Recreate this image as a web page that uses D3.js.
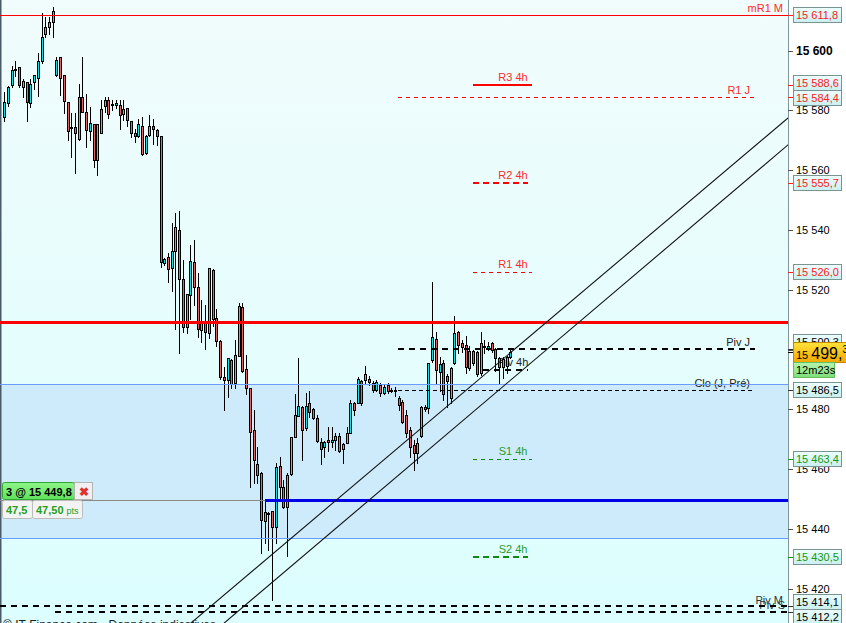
<!DOCTYPE html>
<html><head><meta charset="utf-8">
<script src="https://cdn.jsdelivr.net/npm/d3@7/dist/d3.min.js"></script>
<style>html,body{margin:0;padding:0;background:#fff;overflow:hidden}svg{display:block;font-family:"Liberation Sans",Arial,sans-serif}</style>
</head><body><svg id="c" width="846" height="623"></svg>
<script>
// ---- data ----
const opens = [15577.7,15582.4,15588.4,15593.5,15594.4,15587.7,15589.4,15582.4,15589.4,15590.7,15596.4,15605.4,15607.8,15609.4,15591.7,15597.7,15591.7,15582.7,15574.6,15574.3,15570.6,15584.6,15579.3,15573.0,15575.3,15563.3,15572.6,15581.4,15583.4,15581.7,15581.7,15581.7,15578.7,15580.7,15576.3,15572.3,15571.3,15574.7,15565.6,15571.7,15574.7,15573.3,15571.3,15528.8,15530.9,15527.2,15532.9,15539.9,15523.5,15507.4,15518.2,15529.2,15521.0,15506.5,15508.8,15505.4,15526.6,15510.5,15503.0,15490.7,15490.0,15496.5,15488.7,15498.0,15514.2,15493.4,15487.0,15473.1,15461.9,15458.6,15442.8,15445.3,15446.0,15440.8,15461.1,15453.9,15447.5,15458.4,15470.9,15477.9,15480.9,15473.7,15482.0,15480.0,15477.0,15469.2,15467.5,15469.8,15469.2,15469.8,15471.1,15466.7,15468.9,15472.2,15482.0,15482.2,15489.6,15489.8,15490.3,15488.9,15486.5,15488.2,15485.4,15488.2,15486.5,15486.4,15483.7,15482.6,15478.1,15473.1,15468.1,15465.3,15471.1,15480.8,15480.4,15496.5,15503.6,15492.6,15495.4,15491.2,15483.7,15495.4,15506.0,15502.3,15501.5,15493.7,15499.5,15499.3,15492.1,15501.2,15500.4,15502.3,15500.1,15497.1,15494.3,15494.5,15497.4];
const highs = [15586.2,15588.1,15594.9,15596.4,15594.6,15590.4,15589.6,15590.4,15591.9,15599.1,15612.5,15611.1,15611.1,15614.5,15597.7,15597.9,15591.9,15582.9,15579.0,15579.0,15588.7,15597.7,15585.4,15581.2,15575.5,15575.5,15583.4,15584.4,15584.4,15583.4,15583.4,15583.4,15583.4,15580.9,15576.5,15573.7,15577.0,15577.7,15571.7,15578.3,15577.0,15573.7,15571.4,15530.6,15532.2,15542.2,15545.6,15546.2,15529.9,15518.6,15534.9,15536.5,15525.5,15516.5,15514.8,15527.4,15527.0,15513.5,15503.2,15494.3,15497.2,15496.7,15503.2,15515.5,15515.7,15498.2,15487.1,15479.8,15467.5,15459.2,15449.7,15445.8,15446.1,15462.0,15464.2,15456.4,15458.6,15470.9,15485.0,15497.1,15481.1,15485.4,15486.0,15480.4,15478.1,15470.3,15469.5,15474.0,15474.2,15472.0,15472.2,15468.9,15474.2,15483.1,15482.6,15490.9,15489.8,15494.5,15491.2,15489.5,15489.8,15488.8,15488.2,15488.8,15487.2,15487.6,15484.5,15483.0,15479.8,15474.2,15469.8,15470.3,15481.1,15481.6,15495.6,15522.7,15506.0,15497.6,15496.5,15491.8,15494.3,15511.2,15506.2,15503.2,15504.5,15501.2,15500.0,15499.5,15506.0,15503.2,15502.6,15502.6,15500.4,15497.4,15497.6,15497.8,15500.2];
const lows = [15576.5,15581.5,15587.7,15591.5,15587.7,15584.4,15576.5,15581.2,15587.0,15584.8,15596.0,15604.6,15605.4,15604.6,15591.5,15585.1,15579.0,15570.1,15564.3,15559.0,15570.0,15579.3,15567.6,15570.0,15561.2,15558.3,15572.4,15579.3,15577.3,15580.0,15580.7,15573.7,15576.7,15574.7,15571.0,15569.3,15571.0,15565.0,15565.3,15571.3,15568.6,15568.3,15527.7,15528.4,15522.7,15519.7,15506.8,15498.8,15505.8,15505.4,15510.1,15514.8,15504.1,15502.5,15500.1,15504.0,15508.0,15501.3,15490.3,15479.8,15484.2,15487.0,15487.0,15497.8,15492.5,15485.0,15454.1,15455.3,15455.3,15431.9,15435.2,15433.0,15416.3,15435.2,15449.7,15447.0,15431.1,15458.1,15470.7,15477.8,15463.1,15473.1,15477.5,15476.8,15469.2,15461.7,15464.0,15466.1,15467.5,15466.4,15465.9,15462.0,15468.7,15472.0,15478.1,15482.0,15481.4,15488.7,15488.2,15485.8,15486.2,15484.5,15485.1,15485.5,15485.8,15484.6,15479.8,15475.4,15470.9,15464.2,15459.7,15462.0,15470.9,15479.3,15478.7,15495.9,15488.5,15486.0,15483.2,15480.9,15482.0,15495.2,15498.8,15499.3,15492.1,15493.2,15494.8,15491.2,15491.5,15498.9,15499.9,15499.3,15492.8,15488.7,15490.4,15492.1,15497.1];
const closes = [15582.7,15587.7,15593.4,15593.9,15588.4,15589.7,15582.7,15588.7,15591.7,15596.4,15604.4,15607.8,15609.4,15613.1,15596.7,15590.7,15583.0,15573.0,15574.3,15572.3,15584.6,15579.5,15573.3,15575.7,15563.3,15575.3,15580.4,15583.4,15578.7,15582.0,15582.4,15578.3,15580.4,15576.7,15572.6,15571.3,15575.3,15565.3,15571.3,15574.7,15573.7,15571.3,15529.2,15530.2,15526.9,15532.9,15540.9,15523.5,15507.7,15518.5,15529.6,15521.0,15507.0,15508.8,15506.0,15527.2,15510.1,15503.0,15490.7,15490.0,15497.1,15488.4,15498.2,15514.6,15492.9,15487.0,15472.5,15463.1,15458.1,15443.0,15445.8,15445.0,15440.8,15460.8,15453.9,15447.5,15458.0,15470.7,15478.0,15481.1,15473.1,15481.1,15479.2,15477.0,15469.5,15466.9,15469.0,15469.1,15469.8,15471.1,15466.2,15468.4,15472.0,15482.2,15479.8,15490.1,15482.0,15491.8,15489.3,15486.5,15489.3,15485.4,15487.4,15486.2,15486.4,15486.6,15481.4,15475.9,15472.0,15467.5,15465.5,15468.9,15480.9,15480.2,15495.4,15504.1,15493.2,15495.1,15485.1,15489.5,15494.0,15505.4,15501.5,15500.8,15494.1,15499.5,15495.4,15491.8,15502.3,15500.8,15501.2,15499.9,15497.1,15494.1,15496.8,15497.4,15499.3];

const tickValues = [15420,15440,15460,15480,15500,15520,15540,15560,15580,15600];

// horizontal levels
const levelNames  = ["mR1 M","R3 4h","R1 J","R2 4h","R1 4h","Piv J","Piv 4h","Clo (J, Pré)","S1 4h","S2 4h","Piv M","Piv S"];
const levelValues = [15611.8,15588.6,15584.4,15555.7,15526.0,15500.3,15493.2,15486.5,15463.4,15430.5,15414.1,15412.2];
const levelLabels = ["15 611,8","15 588,6","15 584,4","15 555,7","15 526,0","15 500,3","","15 486,5","15 463,4","15 430,5","15 414,1","15 412,2"];

const alertLevel = 15509.2;
const bandTop = 15488.5, bandBottom = 15437.0;
const entryPrice = 15449.8, entryIndex = 70;
const lastPrice = 15499.3;
const trend1 = [[60,15418.9],[136,15498.9]];
const trend2 = [[60,15409.5],[136,15489.7]];

// ---- scales ----
const W = 846, H = 623, axisX = 788;
const x = d3.scaleLinear().domain([0,136]).range([4.3,510.3]);
const y = d3.scaleLinear().domain([15400,15600]).range([648.6,50.6]);
const svg = d3.select("#c");
const defs = svg.append("defs");
const fr = d3.formatLocale({decimal:",",thousands:" ",grouping:[3],currency:["",""]});
const fmtTick = fr.format(",d");

// background
const bg = defs.append("linearGradient").attr("id","bg").attr("x1",0).attr("y1",0).attr("x2",0).attr("y2",1);
bg.append("stop").attr("offset","0%").attr("stop-color","#f1fcfc");
bg.append("stop").attr("offset","100%").attr("stop-color","#dcfefe");
svg.append("rect").attr("x",0).attr("y",0).attr("width",axisX).attr("height",H).attr("fill","url(#bg)");
svg.append("rect").attr("x",axisX).attr("y",0).attr("width",W-axisX).attr("height",H).attr("fill","#ffffff");
svg.append("rect").attr("x",0).attr("y",Math.round(y(bandTop))).attr("width",axisX)
  .attr("height",Math.round(y(bandBottom))-Math.round(y(bandTop))).attr("fill","#cdebfb");
svg.append("line").attr("x1",0.5).attr("x2",0.5).attr("y1",0).attr("y2",H).attr("stroke","#4a5a66").attr("stroke-width",2);

const plot = svg.append("g");
const clip = defs.append("clipPath").attr("id","pc");
clip.append("rect").attr("x",0).attr("y",0).attr("width",axisX).attr("height",H);

// level label texts (under candles)
const lvlCol = n => /^R|^mR/.test(n) ? "#ff2a2a" : (/^S/.test(n) ? "#2a9a2a" : "#222");
const shortLv = {"R3 4h":1,"R2 4h":1,"R1 4h":1,"S1 4h":1,"S2 4h":1,"Piv 4h":1};
const txt = plot.append("g").attr("font-size",11);
levelNames.forEach((n,i)=>{
  const yy = y(levelValues[i]);
  if (shortLv[n]) {
    txt.append("text").attr("x",513).attr("y",yy-4).attr("text-anchor","middle").attr("fill",lvlCol(n)).text(n);
  } else if (n==="mR1 M") {
    txt.append("text").attr("x",783).attr("y",yy-3).attr("text-anchor","end").attr("fill",lvlCol(n)).text(n);
  } else if (n==="Piv M") {
    txt.append("text").attr("x",783).attr("y",yy-2).attr("text-anchor","end").attr("fill","#333").text(n);
  } else if (n==="Piv S") {
    txt.append("text").attr("x",785).attr("y",yy-3).attr("text-anchor","end").attr("fill","#333").text(n);
  } else {
    txt.append("text").attr("x",750).attr("y",yy-3).attr("text-anchor","end").attr("fill",lvlCol(n)).text(n);
  }
});

// candles
const cg = plot.append("g").attr("shape-rendering","crispEdges");
opens.forEach((o,i)=>{
  const c = closes[i];
  const hi = Math.max(highs[i],o,c), lo = Math.min(lows[i],o,c);
  const cx = Math.round(x(i));
  cg.append("line").attr("x1",cx+0.5).attr("x2",cx+0.5).attr("y1",Math.round(y(hi))).attr("y2",Math.round(y(lo))+1)
    .attr("stroke","#000").attr("stroke-width",1);
  const t = Math.round(y(Math.max(o,c))), b = Math.round(y(Math.min(o,c)));
  cg.append("rect").attr("x",cx-0.5).attr("y",t+0.5).attr("width",2).attr("height",Math.max(1,b-t))
    .attr("fill", c>=o ? "#16e0e0" : "#e06565").attr("stroke","#000").attr("stroke-width",1);
});

// horizontal lines
const ln = plot.append("g").attr("clip-path","url(#pc)");
function hline(v,x1,x2,col,w,dash){
  const yy = Math.round(y(v)) + (w%2 ? 0.5 : 0);
  ln.append("line").attr("x1",x1).attr("x2",x2).attr("y1",yy).attr("y2",yy)
    .attr("stroke",col).attr("stroke-width",w).attr("stroke-dasharray",dash||null).attr("shape-rendering","crispEdges");
}
hline(bandTop,0,axisX,"#6a9cff",1);
hline(bandBottom,0,axisX,"#6a9cff",1);
hline(alertLevel,0,axisX,"#ff0000",3);
hline(entryPrice,0,x(entryIndex),"#8a8a8a",1);
hline(entryPrice,x(entryIndex),axisX,"#0000e6",3);
const styles = {
  "mR1 M":[0,axisX,"#ff0000",1,null],
  "R3 4h":[473,532,"#ff0000",2,null],
  "R1 J":[398,755,"#ff0000",1,"4,4"],
  "R2 4h":[473,528,"#ff0000",2,"6,4"],
  "R1 4h":[473,532,"#ff0000",1,"4,4"],
  "Piv J":[398,755,"#000",2,"6,5"],
  "Piv 4h":[483,528,"#000",2,"6,5"],
  "Clo (J, Pré)":[398,755,"#000",1,"4,3"],
  "S1 4h":[473,532,"#118811",1,"4,4"],
  "S2 4h":[473,528,"#118811",2,"6,4"],
  "Piv M":[0,axisX,"#000",2,"6,5"],
  "Piv S":[55,axisX,"#000",2,"6,5"]
};
levelNames.forEach((n,i)=>{const s=styles[n]; hline(levelValues[i],s[0],s[1],s[2],s[3],s[4]);});

// trend lines
function tline(p){
  const slope = (p[1][1]-p[0][1])/(p[1][0]-p[0][0]);
  const i0 = -60, i1 = 220;
  ln.append("line").attr("x1",x(i0)).attr("y1",y(p[0][1]+slope*(i0-p[0][0])))
    .attr("x2",x(i1)).attr("y2",y(p[0][1]+slope*(i1-p[0][0])))
    .attr("stroke","#111").attr("stroke-width",1.1);
}
tline(trend1); tline(trend2);

// right axis
const ax = svg.append("g").attr("transform",`translate(${axisX},0)`)
  .call(d3.axisRight(y).tickValues(tickValues).tickSize(5).tickPadding(3).tickFormat(fmtTick));
ax.select(".domain").attr("stroke","#7f979b").attr("d",`M0.5,0V${H}`);
ax.selectAll(".tick line").attr("stroke","#555").attr("shape-rendering","crispEdges");
ax.selectAll(".tick text").attr("font-family","Liberation Sans, Arial, sans-serif").attr("fill","#000")
  .attr("font-weight",d=>d===15600?"bold":"normal").attr("font-size",d=>d===15600?12:11);

// value boxes on axis (with simple de-overlap)
const bx = defs.append("linearGradient").attr("id","bx").attr("x1",0).attr("y1",0).attr("x2",0).attr("y2",1);
bx.append("stop").attr("offset","0%").attr("stop-color","#eefefe");
bx.append("stop").attr("offset","100%").attr("stop-color","#c9efef");
const py = Math.round(y(lastPrice));
const boxes = [];
levelNames.forEach((n,i)=>{ if(levelLabels[i]) boxes.push({v:levelValues[i],label:levelLabels[i],
  col:/^R|^mR/.test(n)?"#ff2020":(/^S/.test(n)?"#119911":"#000"), yy:y(levelValues[i]), piv:n==="Piv J"}); });
boxes.sort((a,b)=>a.yy-b.yy);
for(let k=1;k<boxes.length;k++){
  const a=boxes[k-1], b=boxes[k];
  if(b.yy-a.yy<15){ const m=(a.yy+b.yy)/2; a.yy=m-7.5; b.yy=m+7.5; }
}
boxes.forEach(b=>{ if(b.piv) b.yy = py-10; });
const boxG = svg.append("g");
boxes.forEach(b=>{
  const t = Math.round(y(b.v)), yy = Math.round(b.yy);
  boxG.append("line").attr("x1",axisX).attr("x2",axisX+5).attr("y1",t+0.5).attr("y2",t+0.5).attr("stroke",b.col==="#000"?"#333":b.col);
  boxG.append("rect").attr("x",793.5).attr("y",yy-7.5).attr("width",48).attr("height",15).attr("fill","url(#bx)").attr("stroke","#7a9494");
  boxG.append("text").attr("x",796).attr("y",yy+4).attr("font-size",11).attr("fill",b.col).text(b.label);
});

// current price label
const pg = defs.append("linearGradient").attr("id","pg").attr("x1",0).attr("y1",0).attr("x2",0).attr("y2",1);
pg.append("stop").attr("offset","0%").attr("stop-color","#ffe33a");
pg.append("stop").attr("offset","100%").attr("stop-color","#f2a800");
boxG.append("line").attr("x1",axisX).attr("x2",axisX+5).attr("y1",py+0.5).attr("y2",py+0.5).attr("stroke","#000");
boxG.append("rect").attr("x",793.5).attr("y",py-9.5).attr("width",60).attr("height",20).attr("fill","url(#pg)").attr("stroke","#c08a00");
const ps = fr.format(",.1f")(lastPrice);          // "15 499,3"
const pt = boxG.append("text").attr("x",796).attr("y",py+7).attr("fill","#000");
pt.append("tspan").attr("font-size",11).text(ps.slice(0,3));
pt.append("tspan").attr("font-size",16).text(ps.slice(3,ps.length-1));
pt.append("tspan").attr("font-size",10).attr("dy",-6).text(ps.slice(-1));
const tg = defs.append("linearGradient").attr("id","tg").attr("x1",0).attr("y1",0).attr("x2",0).attr("y2",1);
tg.append("stop").attr("offset","0%").attr("stop-color","#b6f5b0");
tg.append("stop").attr("offset","100%").attr("stop-color","#7ede78");
boxG.append("rect").attr("x",793.5).attr("y",py+10.5).attr("width",41).attr("height",15).attr("fill","url(#tg)").attr("stroke","#62c060");
boxG.append("text").attr("x",796).attr("y",py+22).attr("font-size",11).attr("fill","#000").text("12m23s");

// position box (left)
const gg = defs.append("linearGradient").attr("id","gg").attr("x1",0).attr("y1",0).attr("x2",0).attr("y2",1);
gg.append("stop").attr("offset","0%").attr("stop-color","#8ff58a");
gg.append("stop").attr("offset","100%").attr("stop-color","#5fe25a");
const ey = Math.round(y(entryPrice));
const pb = svg.append("g").attr("font-weight","bold");
pb.append("rect").attr("x",2.5).attr("y",ey-17.5).attr("width",72).attr("height",17).attr("rx",2).attr("fill","url(#gg)").attr("stroke","#32a832");
pb.append("text").attr("x",6).attr("y",ey-4.5).attr("font-size",11).attr("fill","#000").text("3 @ " + fr.format(",.1f")(entryPrice));
pb.append("rect").attr("x",74.5).attr("y",ey-17.5).attr("width",18).attr("height",17).attr("fill","#f0f0f0").attr("stroke","#b4b4b4");
pb.append("text").attr("x",83.5).attr("y",ey-4.5).attr("text-anchor","middle").attr("font-size",12).attr("fill","#e03030").text("✖");
pb.append("rect").attr("x",2.5).attr("y",ey+0.5).attr("width",30).attr("height",18).attr("rx",2).attr("fill","#f3f3f3").attr("stroke","#bcbcbc");
pb.append("text").attr("x",6).attr("y",ey+14).attr("font-size",11).attr("fill","#22a022").text("47,5");
pb.append("rect").attr("x",32.5).attr("y",ey+0.5).attr("width",50).attr("height",18).attr("rx",2).attr("fill","#f3f3f3").attr("stroke","#bcbcbc");
const pts = pb.append("text").attr("x",36).attr("y",ey+14).attr("fill","#22a022");
pts.append("tspan").attr("font-size",11).text("47,50 ");
pts.append("tspan").attr("font-size",9).attr("font-weight","normal").text("pts");

// footer
svg.append("text").attr("x",3).attr("y",629).attr("font-size",12).attr("fill","#222").text("© IT-Finance.com - Données indicatives");
</script></body></html>
